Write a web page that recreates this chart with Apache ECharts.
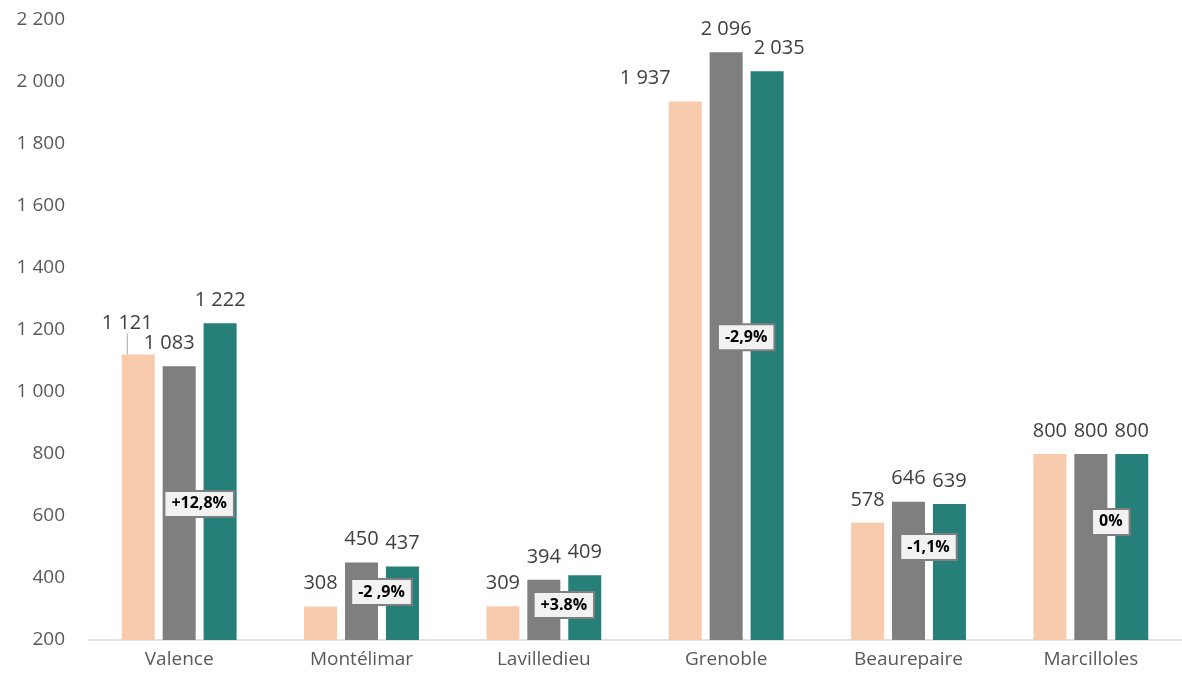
<!DOCTYPE html>
<html lang="fr">
<head>
<meta charset="utf-8">
<title>Chart</title>
<script src="https://cdn.jsdelivr.net/npm/echarts@6/dist/echarts.min.js"></script>
<style>
  html, body { margin: 0; padding: 0; background: #fff; }
  #container { width: 1182px; height: 687px; }
</style>
</head>
<body>
<div id="container"></div>
<script>
var cities = ['Valence', 'Montélimar', 'Lavilledieu', 'Grenoble', 'Beaurepaire', 'Marcilloles'];
var serieA = [1121, 308, 309, 1937, 578, 800];
var serieB = [1083, 450, 394, 2096, 646, 800];
var serieC = [1222, 437, 409, 2035, 639, 800];
var pctLabels = ['+12,8%', '-2 ,9%', '+3.8%', '-2,9%', '-1,1%', '0%'];
var pctLevels = [639, 355, 313, 1177, 500, 581];
var yTicks = [200, 400, 600, 800, 1000, 1200, 1400, 1600, 1800, 2000, 2200];

var FONT = '"Open Sans", sans-serif';

function fmt(v) {
  return String(v).replace(/\B(?=(\d{3})+(?!\d))/g, ' ');
}

// small manual nudges for a few labels, like the original
var nudges = {
  '0_0': [-11, -8],
  '1_0': [-10, 0],
  '0_3': [-40, 0],
  '2_3': [12, 0]
};

function barSeries(name, data, color, idx) {
  return {
    name: name,
    type: 'bar',
    // only the moved Valence label gets a leader line
    data: data.map(function (v, i) {
      return idx === 0 && i === 0
        ? { value: v, labelLine: { show: true } }
        : v;
    }),
    barGap: '24%',
    barCategoryGap: '37%',
    itemStyle: { color: color },
    label: {
      show: true,
      position: 'top',
      distance: 13,
      fontFamily: FONT,
      fontSize: 20,
      color: '#404040',
      formatter: function (p) { return fmt(p.value); }
    },
    labelLine: { show: false, lineStyle: { color: '#a6a6a6', width: 1 } },
    labelLayout: function (p) {
      var n = nudges[idx + '_' + p.dataIndex];
      if (!n) return {};
      return { dx: n[0], dy: n[1] };
    }
  };
}

var myChart = echarts.init(document.getElementById('container'));
var option = {
  animation: false,
  grid: { left: 88, right: -7, top: 20, bottom: 47, containLabel: false },
  xAxis: {
    type: 'category',
    data: cities,
    axisLine: { lineStyle: { color: '#d9d9d9', width: 1.5 } },
    axisTick: { show: false },
    axisLabel: { fontFamily: FONT, fontSize: 19, color: '#595959', margin: 10 }
  },
  yAxis: {
    type: 'value',
    min: yTicks[0],
    max: yTicks[yTicks.length - 1],
    interval: 200,
    splitLine: { show: false },
    axisLine: { show: false },
    axisTick: { show: false },
    axisLabel: {
      fontFamily: FONT, fontSize: 19, color: '#595959', margin: 23,
      formatter: function (v) { return fmt(v); }
    }
  },
  series: [
    barSeries('A', serieA, '#F8CBAD', 0),
    barSeries('B', serieB, '#7F7F7F', 1),
    barSeries('C', serieC, '#267F78', 2),
    {
      type: 'scatter',
      symbolSize: 0,
      z: 10,
      itemStyle: { opacity: 1 },
      data: pctLevels.map(function (v, i) { return [i, v]; }),
      label: {
        show: true,
        position: 'inside',
        offset: [20, 0],
        fontFamily: FONT,
        fontSize: 16,
        fontWeight: 'bold',
        color: '#000',
        backgroundColor: '#F2F2F2',
        borderColor: '#7F7F7F',
        borderWidth: 2,
        padding: [4, 6],
        formatter: function (p) { return pctLabels[p.dataIndex]; }
      }
    }
  ]
};
myChart.setOption(option);
</script>
</body>
</html>
